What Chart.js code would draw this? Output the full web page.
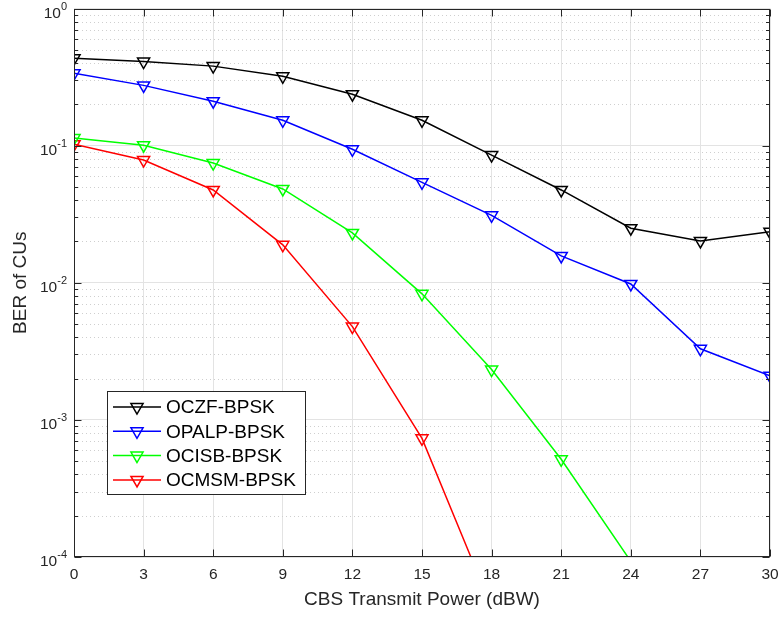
<!DOCTYPE html>
<html>
<head>
<meta charset="utf-8">
<script src="https://cdn.jsdelivr.net/npm/chart.js@4.4.0/dist/chart.umd.min.js"></script>
<style>
  html, body { margin: 0; padding: 0; background: #fff; }
</style>
</head>
<body>
<canvas id="berChart" width="781" height="619"></canvas>
<script>
// transmit power axis (dBW)
const powerDbw = [0, 3, 6, 9, 12, 15, 18, 21, 24, 27, 30];

// BER values
const berOczf  = [0.433, 0.41, 0.38, 0.32, 0.237, 0.153, 0.0853, 0.0475, 0.025, 0.0202, 0.0235];
const berOpalp = [0.337, 0.275, 0.211, 0.153, 0.094, 0.054, 0.031, 0.0157, 0.0098, 0.0033, 0.0021];
const berOcisb = [0.1135, 0.1008, 0.0746, 0.0483, 0.0231, 0.0083, 0.00233, 0.000516, 0.000093, null, null];
const berOcmsm = [0.1025, 0.0785, 0.0475, 0.0189, 0.00479, 0.000733, 0.000043, null, null, null, null];

const seriesLabels = ["OCZF-BPSK", "OPALP-BPSK", "OCISB-BPSK", "OCMSM-BPSK"];
const seriesColors = ["#000000", "#0000ff", "#00ff00", "#ff0000"];

const xTicks = [0, 3, 6, 9, 12, 15, 18, 21, 24, 27, 30];
const yTickExponents = [0, -1, -2, -3, -4];

const yMin = 1e-4;
const yMax = 1;
const axisColor = "#262626";
const fontFamily = "'Liberation Sans', Arial, Helvetica, sans-serif";
const markerRadius = 7;
const lineW = 1.5;

function isDecade(v) {
    const l = Math.log10(v);
    return Math.abs(l - Math.round(l)) < 1e-6;
}

// MATLAB style box, inward ticks, dotted minor grid and superscript labels
const matlabAxes = {
    id: "matlabAxes",
    beforeDatasetsDraw(chart) {
        const { ctx, chartArea: a, scales: { y } } = chart;
        ctx.save();
        ctx.strokeStyle = "#cfcfcf";
        ctx.lineWidth = 1;
        ctx.setLineDash([1, 3]);
        for (let e = -4; e < 0; e++) {
            for (let m = 2; m <= 9; m++) {
                const py = Math.round(y.getPixelForValue(m * Math.pow(10, e))) + 0.5;
                ctx.beginPath();
                ctx.moveTo(a.left, py);
                ctx.lineTo(a.right, py);
                ctx.stroke();
            }
        }
        ctx.restore();
    },
    afterDatasetsDraw(chart) {
        const { ctx, chartArea: a, scales: { x, y } } = chart;
        ctx.save();
        ctx.strokeStyle = axisColor;
        ctx.lineWidth = 1;
        ctx.setLineDash([]);

        const L = Math.round(a.left) + 0.5, R = Math.round(a.right) - 0.5;
        const T = Math.round(a.top) + 0.5, B = Math.round(a.bottom) - 0.5;
        ctx.strokeRect(L, T, R - L, B - T);

        ctx.beginPath();
        xTicks.forEach(v => {
            const px = Math.round(x.getPixelForValue(v)) + 0.5;
            ctx.moveTo(px, B); ctx.lineTo(px, B - 7);
            ctx.moveTo(px, T); ctx.lineTo(px, T + 7);
        });
        for (let e = -4; e <= 0; e++) {
            for (let m = 1; m <= 9; m++) {
                const v = m * Math.pow(10, e);
                if (v > yMax) break;
                const len = m === 1 ? 7 : 3.5;
                const py = Math.round(y.getPixelForValue(v)) + 0.5;
                ctx.moveTo(L, py); ctx.lineTo(L + len, py);
                ctx.moveTo(R, py); ctx.lineTo(R - len, py);
            }
        }
        ctx.stroke();

        // y tick labels 10^n
        ctx.fillStyle = axisColor;
        ctx.textBaseline = "alphabetic";
        ctx.textAlign = "left";
        const right = a.left - 7;
        yTickExponents.forEach(e => {
            const py = y.getPixelForValue(Math.pow(10, e));
            const expText = String(e);
            ctx.font = "11px " + fontFamily;
            const ew = ctx.measureText(expText).width;
            ctx.fillText(expText, right - ew, py + 1);
            ctx.font = "15.5px " + fontFamily;
            const bw = ctx.measureText("10").width;
            ctx.fillText("10", right - ew - bw, py + 9);
        });
        ctx.restore();
    },
    afterDraw(chart) {
        // legend box in lower left
        const { ctx } = chart;
        const bx = 107.5, by = 391.5, bw = 198, bh = 103;
        ctx.save();
        ctx.fillStyle = "#ffffff";
        ctx.fillRect(bx, by, bw, bh);
        ctx.strokeStyle = axisColor;
        ctx.lineWidth = 1;
        ctx.strokeRect(bx, by, bw, bh);
        ctx.font = "19px " + fontFamily;
        ctx.textBaseline = "middle";
        ctx.textAlign = "left";
        chart.data.datasets.forEach((ds, i) => {
            const cy = 407 + i * 24.3;
            ctx.strokeStyle = ds.borderColor;
            ctx.lineWidth = lineW;
            ctx.beginPath();
            ctx.moveTo(113, cy);
            ctx.lineTo(161, cy);
            ctx.stroke();
            ctx.fillStyle = "rgba(0,0,0,0)";
            Chart.helpers.drawPoint(ctx, {
                pointStyle: "triangle",
                rotation: 180,
                radius: markerRadius,
                borderWidth: lineW
            }, 137, cy);
            ctx.fillStyle = "#000000";
            ctx.fillText(ds.label, 166, cy + 1);
        });
        ctx.restore();
    }
};

const seriesData = [berOczf, berOpalp, berOcisb, berOcmsm];

new Chart(document.getElementById("berChart").getContext("2d"), {
    type: "line",
    data: {
        datasets: seriesData.map((vals, i) => ({
            label: seriesLabels[i],
            data: powerDbw.map((p, j) => ({ x: p, y: vals[j] })),
            borderColor: seriesColors[i],
            borderWidth: lineW,
            pointStyle: "triangle",
            rotation: 180,
            pointRadius: ctx => (ctx.raw && ctx.raw.y !== null && ctx.raw.y < yMin ? 0 : markerRadius),
            pointBorderWidth: lineW,
            pointBackgroundColor: "rgba(0,0,0,0)",
            pointBorderColor: seriesColors[i],
            fill: false,
            tension: 0,
            spanGaps: false
        }))
    },
    options: {
        responsive: false,
        animation: false,
        events: [],
        layout: { padding: { top: 7, right: 11, left: 0, bottom: 0 } },
        plugins: {
            legend: { display: false },
            tooltip: { enabled: false }
        },
        scales: {
            x: {
                type: "linear",
                min: 0,
                max: 30,
                afterFit: s => { s.height = 62; s.paddingLeft = 0; s.paddingRight = 0; },
                afterBuildTicks: s => { s.ticks = xTicks.map(v => ({ value: v })); },
                ticks: {
                    color: axisColor,
                    font: { family: fontFamily, size: 15.5 },
                    padding: 8,
                    maxRotation: 0
                },
                grid: { color: "#e3e3e3", drawTicks: false },
                border: { display: false },
                title: {
                    display: true,
                    text: "CBS Transmit Power (dBW)",
                    color: axisColor,
                    font: { family: fontFamily, size: 19 },
                    padding: { top: 0, bottom: 8 }
                }
            },
            y: {
                type: "logarithmic",
                min: yMin,
                max: yMax,
                afterFit: s => { s.width = 74; s.paddingTop = 0; s.paddingBottom = 0; },
                ticks: { display: false },
                grid: {
                    color: c => (c.tick && isDecade(c.tick.value) ? "#e3e3e3" : "rgba(0,0,0,0)"),
                    drawTicks: false
                },
                border: { display: false },
                title: {
                    display: true,
                    text: "BER of CUs",
                    color: axisColor,
                    font: { family: fontFamily, size: 19 },
                    padding: { top: 9, bottom: 0 }
                }
            }
        }
    },
    plugins: [matlabAxes]
});
</script>
</body>
</html>
